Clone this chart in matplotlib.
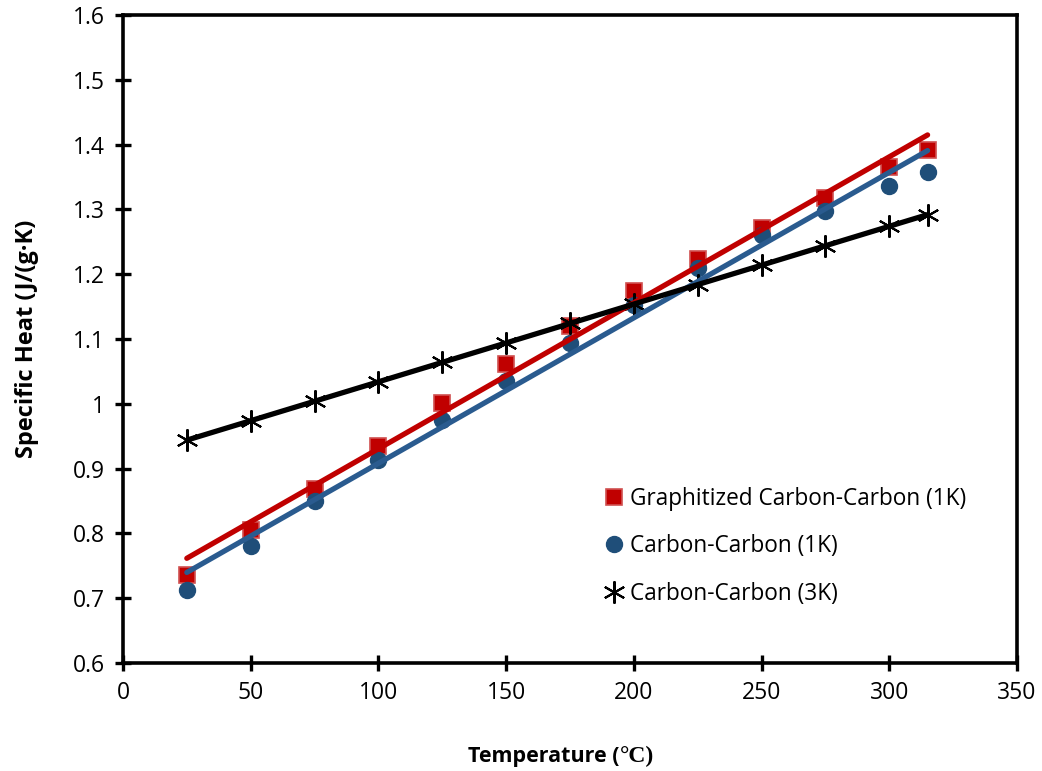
import numpy as np
import matplotlib
matplotlib.use("Agg")
import matplotlib.pyplot as plt

temps = [25, 50, 75, 100, 125, 150, 175, 200, 225, 250, 275, 300, 315]
graph_cc_1k = [0.736, 0.805, 0.868, 0.935, 1.001, 1.062, 1.120, 1.174, 1.224, 1.272, 1.317, 1.366, 1.392]
cc_1k = [0.713, 0.780, 0.850, 0.913, 0.975, 1.035, 1.094, 1.152, 1.210, 1.260, 1.297, 1.336, 1.358]
cc_3k = [0.944, 0.974, 1.004, 1.034, 1.064, 1.094, 1.124, 1.154, 1.184, 1.214, 1.244, 1.274, 1.292]

labels = ["Graphitized Carbon-Carbon (1K)", "Carbon-Carbon (1K)", "Carbon-Carbon (3K)"]
ytick_labels = ['0.6', '0.7', '0.8', '0.9', '1', '1.1', '1.2', '1.3', '1.4', '1.5', '1.6']

plt.rcParams['font.family'] = ['Open Sans', 'DejaVu Sans']

fig = plt.figure(figsize=(10.42, 7.71), dpi=100)
ax = fig.add_axes([0.118, 0.140, 0.858, 0.8405])

x = np.array(temps, dtype=float)
red = '#C00000'
blue = '#1F4E79'

ax.plot(x, graph_cc_1k, linestyle='none', marker='s', markersize=11,
        markerfacecolor=red, markeredgecolor='#D05050', markeredgewidth=1.2, label=labels[0], zorder=3)
ax.plot(x, cc_1k, linestyle='none', marker='o', markersize=11.5,
        markerfacecolor=blue, markeredgecolor=blue, label=labels[1], zorder=3)
ax.plot(x, cc_3k, linestyle='none', marker=(6, 2, 0), markersize=16,
        markeredgecolor='black', markeredgewidth=1.5, color='black', label=labels[2], zorder=3)

for ys, c in [(graph_cc_1k, red), (cc_1k, '#2A5B8F'), (cc_3k, 'black')]:
    p = np.polyfit(x, ys, 1)
    xx = np.array([x.min(), x.max()])
    ax.plot(xx, np.polyval(p, xx), color=c, linewidth=3.8, solid_capstyle='round', zorder=4)

ax.set_xlim(0, 350)
ax.set_ylim(0.6, 1.6)
ax.set_xticks(np.arange(0, 351, 50))
ax.set_yticks(np.round(np.arange(0.6, 1.61, 0.1), 1))
ax.set_yticklabels(ytick_labels)

for s in ax.spines.values():
    s.set_linewidth(2.6)
    s.set_color('black')
ax.tick_params(direction='inout', length=12, width=2.4, labelsize=16.5, colors='black', pad=7)

# axis titles
fig.text(619 / 1042, 1 - 762 / 771, 'Temperature (', ha='right', va='baseline',
         fontsize=15.5, fontweight='bold')
fig.text(620 / 1042, 1 - 762 / 771, '°C)', ha='left', va='baseline',
         fontsize=17, fontweight='bold', family=['Liberation Serif', 'DejaVu Serif'])
fig.text(27 / 1042, 1 - 339 / 771, 'Specific Heat (J/(g·K)', ha='center', va='center',
         rotation=90, fontsize=17, fontweight='bold')

leg = ax.legend(loc='center left', bbox_to_anchor=(0.534, 0.18), frameon=False, fontsize=16.3,
                handletextpad=0.1, handlelength=1.2, labelspacing=1.02, borderpad=0,
                borderaxespad=0)

fig.savefig('out.png', dpi=100)
